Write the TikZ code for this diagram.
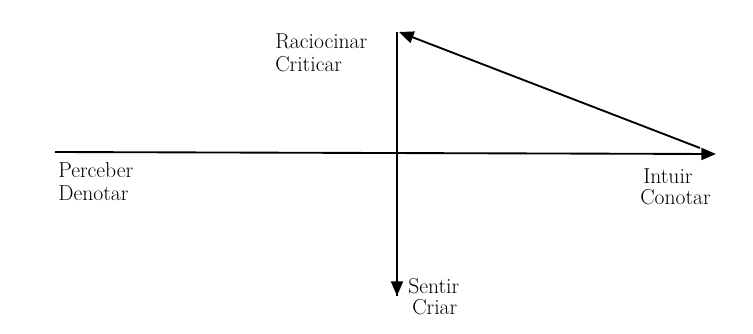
\documentclass[tikz,border=0pt]{standalone}
\usetikzlibrary{arrows.meta}
\begin{document}
\begin{tikzpicture}[x=0.75pt,y=-0.75pt,
  lbl/.style={inner sep=0pt,font=\fontsize{16.2}{19}\selectfont,anchor=base west},
  axis/.style={line width=1.4pt,-{Triangle[length=11pt,width=9pt]}}]
\useasboundingbox (0,0) rectangle (753,333);
\coordinate (hl) at (55,152);
\coordinate (hr) at (716,154);
\coordinate (vt) at (397,32);
\coordinate (vb) at (397,296);
\coordinate (dt) at (399,32);
\coordinate (dr) at (700,148);
\draw[line width=1.4pt] (vt) -- (vb);
\draw[axis] (hl) -- (hr);
\draw[axis] (vt) -- (vb);
\draw[axis] (dr) -- (dt);
\node[lbl] (rac) at (275,48) {Raciocinar};
\node[lbl] (cri) at (275,71) {Criticar};
\node[lbl] (int) at (643,183) {Intuir};
\node[lbl] (con) at (640,204) {Conotar};
\node[lbl] (sen) at (408,293) {Sentir};
\node[lbl] (cria) at (412,314) {Criar};
\node[lbl] (per) at (58,177) {Perceber};
\node[lbl] (den) at (58,200) {Denotar};
\end{tikzpicture}
\end{document}
